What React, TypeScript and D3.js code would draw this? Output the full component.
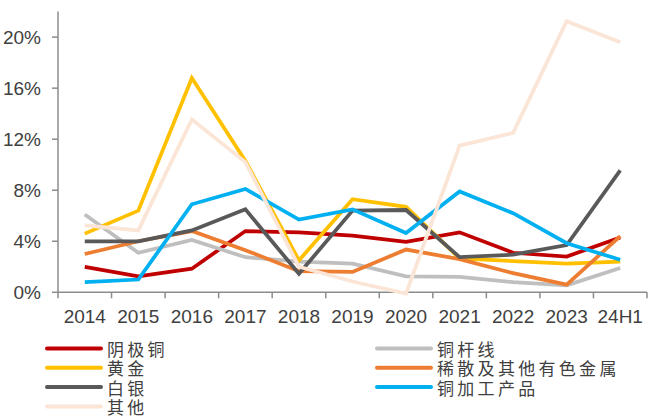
import React from "react";
import * as d3 from "d3";

// 各品类年度数据（%）
const years = ["2014", "2015", "2016", "2017", "2018", "2019", "2020", "2021", "2022", "2023", "24H1"];
const cathode = [2.0, 1.25, 1.85, 4.8, 4.7, 4.45, 3.95, 4.7, 3.1, 2.8, 4.3];
const rod = [6.1, 3.1, 4.1, 2.75, 2.4, 2.25, 1.25, 1.2, 0.8, 0.55, 1.9];
const gold = [4.6, 6.4, 16.8, 10.3, 2.5, 7.3, 6.7, 2.65, 2.45, 2.25, 2.4];
const rare = [3.0, 4.0, 4.8, 3.3, 1.65, 1.6, 3.35, 2.6, 1.5, 0.6, 4.4];
const silver = [4.0, 4.0, 4.85, 6.5, 1.45, 6.4, 6.45, 2.75, 2.95, 3.7, 9.55];
const processed = [0.8, 1.0, 6.9, 8.1, 5.7, 6.5, 4.65, 7.9, 6.2, 3.85, 2.55];
const others = [5.25, 4.85, 13.55, 10.2, 2.0, 0.85, -0.1, 11.5, 12.5, 21.25, 19.6];
const yTicks = [0, 4, 8, 12, 16, 20];

const series = [
  { name: "阴极铜", values: cathode, color: "#C00000" },
  { name: "铜杆线", values: rod, color: "#BFBFBF" },
  { name: "黄金", values: gold, color: "#FFC000" },
  { name: "稀散及其他有色金属", values: rare, color: "#ED7D31" },
  { name: "白银", values: silver, color: "#595959" },
  { name: "铜加工产品", values: processed, color: "#00B0F0" },
  { name: "其他", values: others, color: "#FBE5D6" },
];

const W = 648;
const H = 418;
const axisColor = "#8c8c8c";
const textColor = "#404040";
const numFont = "'Liberation Sans Narrow', 'Arial Narrow', 'Liberation Sans', Arial, sans-serif";

export default function App() {
  const x = d3.scaleBand<string>().domain(years).range([58, 647]).padding(0);
  const y = d3.scaleLinear().domain([0, 22]).range([292.3, 11.6]);
  const cx = (i: number) => (x(years[i]) ?? 0) + x.bandwidth() / 2;
  const line = d3
    .line<number>()
    .x((_, i) => cx(i))
    .y((d) => y(d));

  const boundaries = years.map((yr) => x(yr) ?? 0).concat([647]);

  return (
    <svg width={W} height={H} style={{ position: "absolute", left: 0, top: 0, background: "#fff" }}>
      {/* y axis */}
      <line x1={58} x2={58} y1={y(22)} y2={y(0)} stroke={axisColor} strokeWidth={1.5} />
      {yTicks.map((t) => (
        <g key={t}>
          <line x1={52} x2={58} y1={y(t)} y2={y(t)} stroke={axisColor} strokeWidth={1.5} />
          <text
            x={41}
            y={y(t)}
            textAnchor="end"
            dominantBaseline="central"
            fontFamily={numFont}
            fontSize={19}
            fill={textColor}
          >
            {t}%
          </text>
        </g>
      ))}
      {/* x axis */}
      <line x1={58} x2={647} y1={y(0)} y2={y(0)} stroke={axisColor} strokeWidth={1.5} />
      {boundaries.map((b, i) => (
        <line key={i} x1={b} x2={b} y1={y(0)} y2={y(0) + 6} stroke={axisColor} strokeWidth={1.5} />
      ))}
      {years.map((yr, i) => (
        <text
          key={yr}
          x={cx(i)}
          y={323}
          textAnchor="middle"
          fontFamily={numFont}
          fontSize={19}
          fill={textColor}
        >
          {yr}
        </text>
      ))}
      {/* lines */}
      {series.map((s) => (
        <path
          key={s.name}
          d={line(s.values) ?? ""}
          fill="none"
          stroke={s.color}
          strokeWidth={3.75}
          strokeLinejoin="miter"
        />
      ))}
      {/* legend */}
      {series.map((s, i) => {
        const col = i % 2;
        const row = Math.floor(i / 2);
        const lx = col === 0 ? 47 : 377;
        const ly = 348.5 + row * 19.3;
        return (
          <g key={s.name}>
            <line
              x1={lx}
              x2={lx + 54}
              y1={ly}
              y2={ly}
              stroke={s.color}
              strokeWidth={4}
              strokeLinecap="round"
            />
            <text
              x={lx + 60}
              y={ly}
              dominantBaseline="central"
              fontFamily="'Noto Sans CJK SC', sans-serif"
              fontSize={17}
              letterSpacing={3.3}
              fill={textColor}
            >
              {s.name}
            </text>
          </g>
        );
      })}
    </svg>
  );
}
